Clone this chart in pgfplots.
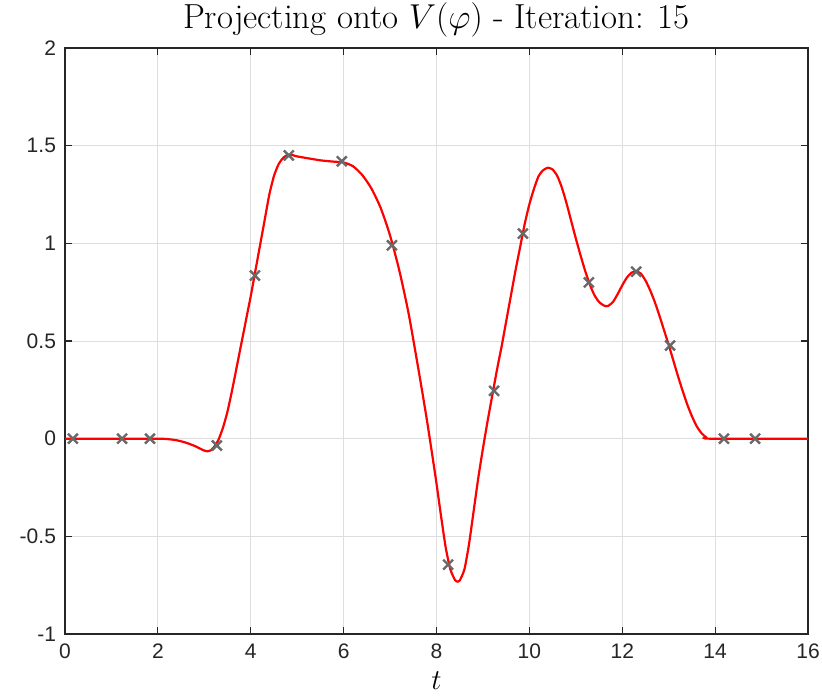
\documentclass[border=0pt]{standalone}
\usepackage{pgfplots}
\pgfplotsset{compat=1.18}
\usepackage{fontspec}
\setmainfont{Liberation Sans}
\newfontfamily\lmfont{Latin Modern Roman}
\definecolor{gridgray}{RGB}{222,222,222}
\definecolor{axgray}{RGB}{38,38,38}
\definecolor{markgray}{RGB}{105,105,105}

\begin{document}
\begin{tikzpicture}
\begin{pgfinterruptboundingbox}
\begin{axis}[
    at={(0,0)}, anchor=south west,
    scale only axis, width=371.5pt, height=293pt,
    xmin=0, xmax=16, ymin=-1, ymax=2,
    xtick={0,2,...,16},
    ytick={-1,-0.5,0,0.5,1,1.5,2},
    yticklabels={-1,-0.5,0,0.5,1,1.5,2},
    /pgf/number format/assume math mode=true,
    tick label style={font=\fontsize{10.5}{12}\selectfont, color=axgray},
    xticklabel style={yshift=-1.5pt},
    yticklabel style={xshift=-1pt},
    grid=major, major grid style={gridgray, line width=0.5pt},
    axis line style={axgray, line width=0.6pt},
    tick style={axgray, line width=0.6pt},
    tick align=inside, major tick length=3.5pt,
    xtick pos=both, ytick pos=both,
    title={\lmfont\fontsize{17.4}{20}\selectfont Projecting onto $V(\varphi)$ - Iteration: 15},
    title style={yshift=-4pt},
    xlabel={\fontsize{15}{17}\selectfont $t$},
    xlabel style={yshift=0.5pt},
]
\addplot[red, line width=1.1pt, smooth, tension=0.4] coordinates {
    (0,0) (1,0) (2,0) (2.2,-0.002) (2.4,-0.008) (2.6,-0.02) (2.8,-0.038)
    (2.9,-0.05) (3.0,-0.061) (3.07,-0.065) (3.15,-0.058) (3.2,-0.046)
    (3.3,-0.008) (3.4,0.055) (3.5,0.14) (3.6,0.25) (3.7,0.37) (3.8,0.49)
    (3.9,0.61) (4.0,0.73) (4.1,0.86) (4.2,0.99) (4.3,1.12) (4.4,1.25)
    (4.5,1.345) (4.6,1.405) (4.7,1.438) (4.8,1.453) (4.9,1.452) (5.0,1.445)
    (5.5,1.425) (5.8,1.418) (6.0,1.414) (6.2,1.395) (6.4,1.35) (6.6,1.28)
    (6.8,1.18) (7.0,1.04) (7.2,0.86) (7.4,0.64) (7.6,0.37) (7.7,0.23)
    (7.8,0.085) (7.9,-0.07) (8.0,-0.23) (8.1,-0.40) (8.2,-0.56) (8.3,-0.67)
    (8.4,-0.724) (8.46,-0.732) (8.5,-0.726) (8.6,-0.67) (8.7,-0.54)
    (8.8,-0.37) (8.9,-0.20) (9.0,-0.05) (9.1,0.09) (9.2,0.22) (9.3,0.35)
    (9.4,0.47) (9.5,0.60) (9.6,0.73) (9.7,0.86) (9.8,0.98) (9.9,1.10)
    (10.0,1.20) (10.1,1.28) (10.2,1.345) (10.3,1.375) (10.4,1.387)
    (10.5,1.378) (10.6,1.345) (10.7,1.285) (10.8,1.205) (10.9,1.115)
    (11.0,1.025) (11.1,0.94) (11.2,0.86) (11.3,0.79) (11.4,0.735)
    (11.5,0.70) (11.6,0.682) (11.65,0.678) (11.7,0.68) (11.8,0.70)
    (11.9,0.74) (12.0,0.785) (12.1,0.825) (12.2,0.85) (12.3,0.857)
    (12.4,0.845) (12.5,0.81) (12.6,0.76) (12.7,0.70) (12.8,0.63)
    (12.9,0.555) (13.0,0.48) (13.1,0.40) (13.2,0.32) (13.3,0.245)
    (13.4,0.175) (13.5,0.115) (13.6,0.065) (13.7,0.03) (13.8,0.008)
    (13.9,0) (16,0)
};
\addplot[only marks, mark=x, mark size=3.5pt, markgray, mark options={line width=1.2pt}] coordinates {
    (0.17,0) (1.23,0) (1.83,0) (3.27,-0.035) (4.09,0.835) (4.82,1.45)
    (5.96,1.42) (7.04,0.99) (8.25,-0.645) (9.24,0.245) (9.86,1.05)
    (11.28,0.80) (12.30,0.855) (13.03,0.477) (14.19,0) (14.86,0)
};
\end{axis}
\end{pgfinterruptboundingbox}
\path (-32.5pt,-31.5pt) rectangle (378.5pt,317pt);
\end{tikzpicture}
\end{document}
